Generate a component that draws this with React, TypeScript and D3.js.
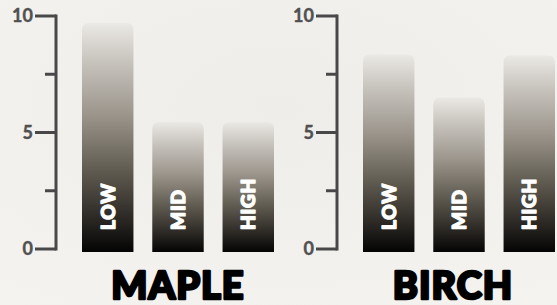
import { useEffect, useRef } from "react";
import * as d3 from "d3";

const levels = ["LOW", "MID", "HIGH"];
const woods = ["MAPLE", "BIRCH"];
const mapleValues = [9.7, 5.45, 5.45];
const birchValues = [8.35, 6.5, 8.3];
const tickValues = [0, 2.5, 5, 7.5, 10];
const majorTicks = [0, 5, 10];

const HEAVY = "Lato, Inter, 'DejaVu Sans', sans-serif";

const App = () => {
  const svgRef = useRef<SVGSVGElement | null>(null);

  useEffect(() => {
    if (!svgRef.current) return;
    const width = 557;
    const height = 305;
    const svg = d3.select(svgRef.current);
    svg.selectAll("*").remove();
    svg.attr("width", width).attr("height", height);

    const defs = svg.append("defs");
    const grad = defs
      .append("linearGradient")
      .attr("id", "barGrad")
      .attr("x1", 0)
      .attr("y1", 0)
      .attr("x2", 0)
      .attr("y2", 1);
    [
      [0, "#ebe9e5"],
      [0.15, "#cbc7c1"],
      [0.4, "#9b958c"],
      [0.65, "#5f5a50"],
      [0.86, "#2a2723"],
      [1, "#040404"],
    ].forEach(([o, c]) =>
      grad.append("stop").attr("offset", o as number).attr("stop-color", c as string)
    );

    const bg = defs.append("radialGradient").attr("id", "bgGrad").attr("cx", 0.5).attr("cy", 0.35).attr("r", 0.8);
    bg.append("stop").attr("offset", 0).attr("stop-color", "#efedea");
    bg.append("stop").attr("offset", 1).attr("stop-color", "#f5f3f0");

    svg.append("rect").attr("width", width).attr("height", height).attr("fill", "url(#bgGrad)");

    const y = d3.scaleLinear().domain([0, 10]).range([249, 16]);
    // layout per panel (axis position, bar span, title centre)
    const panels = [
      { name: woods[0], values: mapleValues, axisX: 56, x0: 82, x1: 274, titleX: 178 },
      { name: woods[1], values: birchValues, axisX: 337, x0: 363, x1: 555, titleX: 453 },
    ];

    panels.forEach((p) => {
      const g = svg.append("g");
      const x = d3.scaleBand<string>().domain(levels).range([p.x0, p.x1]).paddingInner(0.268).paddingOuter(0);

      // axis
      g.append("line")
        .attr("x1", p.axisX)
        .attr("x2", p.axisX)
        .attr("y1", y(10) - 1.5)
        .attr("y2", y(0) + 1.5)
        .attr("stroke", "#484848")
        .attr("stroke-width", 3);
      tickValues.forEach((t) => {
        const major = majorTicks.includes(t);
        g.append("line")
          .attr("x1", p.axisX - (major ? 21 : 11))
          .attr("x2", p.axisX)
          .attr("y1", y(t))
          .attr("y2", y(t))
          .attr("stroke", "#484848")
          .attr("stroke-width", 3);
        if (major) {
          g.append("text")
            .attr("x", p.axisX - 23)
            .attr("y", y(t))
            .attr("dy", "0.36em")
            .attr("text-anchor", "end")
            .attr("font-family", HEAVY)
            .attr("font-weight", 700)
            .attr("font-size", 18)
            .attr("fill", "#505050")
            .attr("stroke", "#505050")
            .attr("stroke-width", 0.4)
            .text(t);
        }
      });

      levels.forEach((lv, i) => {
        const bx = x(lv)!;
        const bw = x.bandwidth();
        const top = y(p.values[i]);
        const bottom = y(0) + 3;
        const r = 7;
        const path = d3.path();
        path.moveTo(bx, bottom);
        path.lineTo(bx, top + r);
        path.quadraticCurveTo(bx, top, bx + r, top);
        path.lineTo(bx + bw - r, top);
        path.quadraticCurveTo(bx + bw, top, bx + bw, top + r);
        path.lineTo(bx + bw, bottom);
        path.closePath();
        g.append("path").attr("d", path.toString()).attr("fill", "url(#barGrad)");

        const cx = bx + bw / 2 + 7;
        const ty = bottom - 22;
        g.append("text")
          .attr("transform", `translate(${cx},${ty}) rotate(-90)`)
          .attr("font-family", HEAVY)
          .attr("font-weight", 900)
          .attr("font-size", 19)
          .attr("letter-spacing", 0.8)
          .attr("fill", "#ffffff")
          .attr("stroke", "#ffffff")
          .attr("stroke-width", 1.3)
          .attr("stroke-linejoin", "round")
          .text(lv);
      });

      g.append("text")
        .attr("x", p.titleX)
        .attr("y", 299)
        .attr("text-anchor", "middle")
        .attr("font-family", HEAVY)
        .attr("font-weight", 900)
        .attr("font-size", 38)
        .attr("letter-spacing", 1)
        .attr("fill", "#000000")
        .attr("stroke", "#000000")
        .attr("stroke-width", 2.6)
        .attr("stroke-linejoin", "round")
        .text(p.name);
    });
  }, []);

  return <svg ref={svgRef} style={{ position: "absolute", left: 0, top: 0 }}></svg>;
};

export default App;
